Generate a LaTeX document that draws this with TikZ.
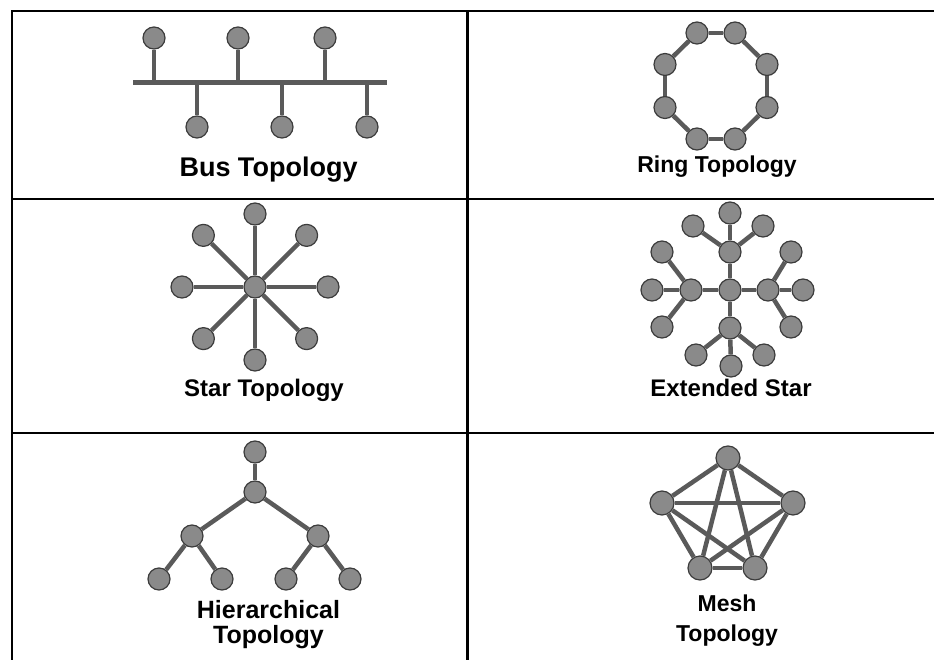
\documentclass[tikz,border=0pt]{standalone}
\usepackage{fontspec}
\setmainfont{Liberation Sans}
\usetikzlibrary{positioning, calc}
\definecolor{LinkGray}{HTML}{5A5A5A}
\definecolor{HostGray}{HTML}{8A8A8A}
\definecolor{HostEdge}{HTML}{3C3C3C}

\begin{document}
\begin{tikzpicture}[x=1pt, y=-1pt,
        host/.style={circle, draw=HostEdge, line width=1.2pt, fill=HostGray, minimum size=22pt, inner sep=0pt},
        bighost/.style={host, minimum size=24pt},
        link/.style={draw=LinkGray, line width=4.5pt},
        caption/.style={font=\bfseries\fontsize{#1}{#1}\selectfont, anchor=base, inner sep=0pt, align=center},
        tableline/.style={line width=2.6pt}]

        \useasboundingbox (0,0) rectangle (934,660);

        % table
        \draw[tableline] (934,11) -- (12,11) -- (12,660);
        \draw[tableline] (467.7,11) -- (467.7,660);
        \draw[tableline] (12,199) -- (934,199);
        \draw[tableline] (12,433) -- (934,433);

        % bus
        \coordinate (busL) at (133,83);
        \coordinate (busR) at (387,83);
        \draw[link, line width=5pt] (busL) -- (busR);
        \foreach \n/\x/\y in {b1/154/38, b2/238/38, b3/325/38, b4/197/127, b5/282/127, b6/367/127}
            \node[host] (\n) at (\x,\y) {};
        \foreach \n in {b1,b2,b3,b4,b5,b6}
            \draw[link, line width=4pt] (\n) -- (\n |- busL);
        \node[caption=27] (bustext) at (268.5,177) {Bus Topology};

        % ring
        \foreach \i/\x/\y in {1/697/33, 2/735/33, 3/767/64.5, 4/767/107.5, 5/735/139, 6/697/139, 7/665/107.5, 8/665/64.5}
            \node[host] (r\i) at (\x,\y) {};
        \foreach \i/\j in {1/2, 2/3, 3/4, 4/5, 5/6, 6/7, 7/8, 8/1}
            \draw[link] (r\i) -- (r\j);
        \node[caption=23] (ringtext) at (717,173) {Ring Topology};

        % star
        \node[host] (sc) at (255,287) {};
        \foreach \a in {0,45,...,315} {
            \node[host] (s\a) at ($(sc)+(\a:73)$) {};
            \draw[link] (sc) -- (s\a);
        }
        \node[caption=24] (startext) at (264,396.7) {Star Topology};

        % extended star
        \node[host] (ec) at (730,290) {};
        \node[host] (eu) at (730,252) {};
        \node[host] (ed) at (730,328) {};
        \node[host] (el) at (691,290) {};
        \node[host] (er) at (768,290) {};
        \foreach \h in {eu,ed,el,er}
            \draw[link] (ec) -- (\h);
        \foreach \n/\x/\y/\h in {eu1/730/213/eu, eu2/693/226/eu, eu3/763/226/eu,
                                 ed1/731/366/ed, ed2/696/355/ed, ed3/764/355/ed,
                                 el1/652/290/el, el2/662/252/el, el3/662/327/el,
                                 er1/803/290/er, er2/791/252/er, er3/791/327/er} {
            \node[host] (\n) at (\x,\y) {};
            \draw[link] (\h) -- (\n);
        }
        \node[caption=24] (exttext) at (731,396.7) {Extended Star};

        % hierarchical
        \foreach \n/\x/\y in {h0/255/452, h1/255/492, h2/192/536, h3/318/536,
                              h4/159/579, h5/222/579, h6/286/579, h7/350/579}
            \node[host] (\n) at (\x,\y) {};
        \foreach \a/\b in {h0/h1, h1/h2, h1/h3, h2/h4, h2/h5, h3/h6, h3/h7}
            \draw[link] (\a) -- (\b);
        \node[caption=25] (hiertext) at (268.5,643) {Hierarchical\\Topology};

        % mesh
        \foreach \n/\x/\y in {m1/728/458, m2/662/503, m3/793/503, m4/700/568, m5/755/568}
            \node[bighost] (\n) at (\x,\y) {};
        \foreach \a/\b in {m1/m2, m1/m3, m1/m4, m1/m5, m2/m3, m2/m4, m2/m5, m3/m4, m3/m5, m4/m5}
            \draw[link] (\a) -- (\b);
        \node[caption=23] (meshtext) at (727,641.7) {Mesh\\[7pt]Topology};
    \end{tikzpicture}
\end{document}
